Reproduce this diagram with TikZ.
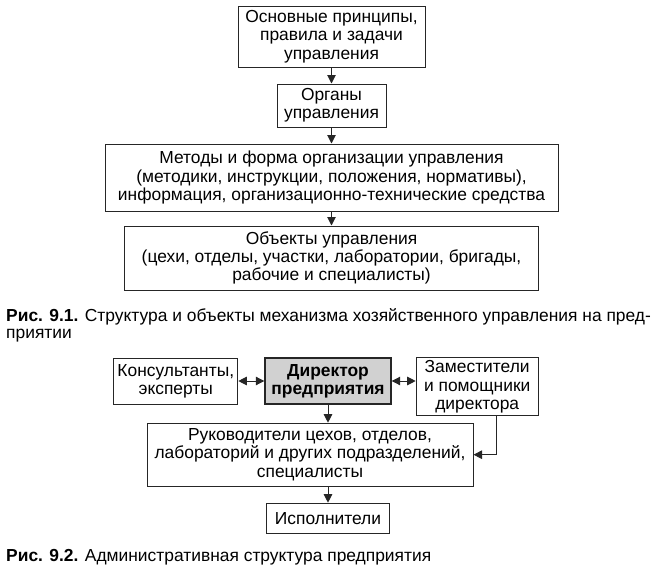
\documentclass[tikz,border=0pt]{standalone}
\usepackage{fontspec}
\setmainfont{Liberation Sans}
\usetikzlibrary{positioning,arrows.meta}

\tikzset{
	box/.style={draw=black!85, line width=1pt, align=center, inner sep=1pt,
		font=\fontsize{17.4}{18.3}\selectfont},
	arr/.style={draw=black!85, line width=1pt, -{Triangle[length=8.5pt,width=8.5pt]}},
	darr/.style={draw=black!85, line width=1pt, {Triangle[length=8.5pt,width=8.5pt]}-{Triangle[length=8.5pt,width=8.5pt]}},
	capt/.style={anchor=north west, align=left, inner sep=0pt,
		font=\fontsize{17.4}{17}\selectfont},
}

\begin{document}
\begin{tikzpicture}[x=1pt,y=-1pt]
	\useasboundingbox (0,0) rectangle (665,573);
	
	\node[box, minimum width=187pt, minimum height=61pt] (p1) at (331.5,36.5) {Основные принципы,\\правила и задачи\\управления};
	\node[box, minimum width=109pt, minimum height=43pt, below=16pt of p1] (p2) {Органы\\управления};
	\node[box, minimum width=453pt, minimum height=67pt, below=16pt of p2] (p3) {Методы и форма организации управления\\(методики, инструкции, положения, нормативы),\\информация, организационно-технические средства};
	\node[box, minimum width=414pt, minimum height=64pt, below=14pt of p3] (p4) {Объекты управления\\(цехи, отделы, участки, лаборатории, бригады,\\рабочие и специалисты)};
	
	\draw[arr] (p1) -- (p2);
	\draw[arr] (p2) -- (p3);
	\draw[arr] (p3) -- (p4);
	
	\node[capt] (c1) at (6,308) {\textbf{Рис. 9.1.} Структура и объекты механизма хозяйственного управления на пред-\\приятии};
	
	\node[box, fill=black!18, line width=1.4pt, minimum width=126pt, minimum height=46pt, font=\fontsize{17.4}{18.3}\selectfont\bfseries] (d) at (328,381) {Директор\\предприятия};
	\node[box, minimum width=124pt, minimum height=46pt, left=26pt of d] (k) {Консультанты,\\эксперты};
	\node[box, minimum width=122pt, minimum height=58pt, right=24pt of d.north east, anchor=north west] (z) {Заместители\\и помощники\\директора};
	\node[box, minimum width=326pt, minimum height=63pt, below=18pt of d, xshift=-18pt] (r) {Руководители цехов, отделов,\\лабораторий и других подразделений,\\специалисты};
	\node[box, minimum width=123pt, minimum height=30pt, below=16pt of r, xshift=18pt] (i) {Исполнители};
	
	\draw[darr] (k) -- (d);
	\draw[darr] (d.east) -- (d.east -| z.west);
	\draw[arr] (d.south) -- (d.south |- r.north);
	\draw[arr] ([xshift=19pt]z.south) |- (r.east);
	\draw[arr] (i.north |- r.south) -- (i.north);
	
	\node[capt] (c2) at (6,549) {\textbf{Рис. 9.2.} Административная структура предприятия};
\end{tikzpicture}
\end{document}
